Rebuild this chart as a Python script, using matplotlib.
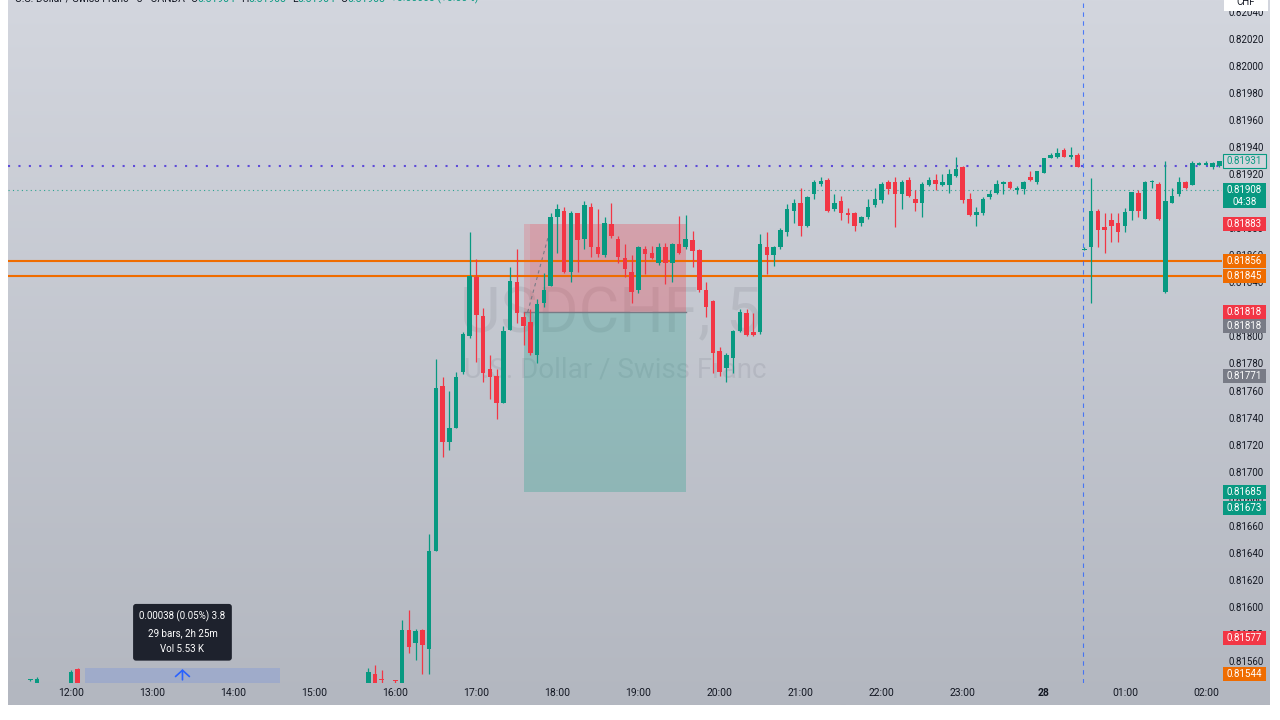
import numpy as np
import matplotlib
matplotlib.use("Agg")
import matplotlib.pyplot as plt
import matplotlib.transforms as mtransforms
from matplotlib.patches import Rectangle
from matplotlib.colors import LinearSegmentedColormap

plt.rcParams['font.family'] = ['Roboto', 'DejaVu Sans']

# 5 minute bars, USDCHF
times = ["11:30", "11:35", "12:00", "12:05", "15:40", "15:45", "15:50", "16:00",
         "16:05", "16:10", "16:15", "16:20", "16:25", "16:30", "16:35", "16:40",
         "16:45", "16:50", "16:55", "17:00", "17:05", "17:10", "17:15", "17:20",
         "17:25", "17:30", "17:35", "17:40", "17:45", "17:50", "17:55", "18:00",
         "18:05", "18:10", "18:15", "18:20", "18:25", "18:30", "18:35", "18:40",
         "18:45", "18:50", "18:55", "19:00", "19:05", "19:10", "19:15", "19:20",
         "19:25", "19:30", "19:35", "19:40", "19:45", "19:50", "19:55", "20:00",
         "20:05", "20:10", "20:15", "20:20", "20:25", "20:30", "20:35", "20:40",
         "20:45", "20:50", "20:55", "21:00", "21:05", "21:10", "21:15", "21:20",
         "21:25", "21:30", "21:35", "21:40", "21:45", "21:50", "21:55", "22:00",
         "22:05", "22:10", "22:15", "22:20", "22:25", "22:30", "22:35", "22:40",
         "22:45", "22:50", "22:55", "23:00", "23:05", "23:10", "23:15", "23:20",
         "23:25", "23:30", "23:35", "23:40", "23:45", "23:50", "23:55", "00:00",
         "00:05", "00:10", "00:15", "00:20", "00:25", "00:30", "00:35", "00:40",
         "00:45", "00:50", "00:55", "01:00", "01:05", "01:10", "01:15", "01:20",
         "01:25", "01:30", "01:35", "01:40", "01:45", "01:50", "01:55", "02:00",
         "02:05", "02:10"]

opens = [0.81546, 0.81544, 0.81544, 0.81554, 0.81544, 0.81550, 0.81547, 0.81546,
         0.81544, 0.81583, 0.81573, 0.81583, 0.81569, 0.81641, 0.81763, 0.81722,
         0.81732, 0.81774, 0.81800, 0.81844, 0.81815, 0.81776, 0.81771, 0.81751,
         0.81805, 0.81840, 0.81814, 0.81811, 0.81786, 0.81825, 0.81837, 0.81888,
         0.81893, 0.81848, 0.81891, 0.81872, 0.81896, 0.81866, 0.81860, 0.81883,
         0.81872, 0.81858, 0.81848, 0.81834, 0.81865, 0.81862, 0.81854, 0.81866,
         0.81854, 0.81868, 0.81866, 0.81871, 0.81864, 0.81834, 0.81826, 0.81789,
         0.81777, 0.81784, 0.81804, 0.81817, 0.81803, 0.81803, 0.81866, 0.81860,
         0.81866, 0.81877, 0.81893, 0.81899, 0.81882, 0.81905, 0.81913, 0.81916,
         0.81894, 0.81900, 0.81891, 0.81891, 0.81884, 0.81888, 0.81897, 0.81901,
         0.81914, 0.81914, 0.81905, 0.81916, 0.81902, 0.81899, 0.81912, 0.81916,
         0.81912, 0.81912, 0.81919, 0.81925, 0.81902, 0.81890, 0.81891, 0.81903,
         0.81906, 0.81913, 0.81914, 0.81908, 0.81909, 0.81918, 0.81914, 0.81921,
         0.81932, 0.81933, 0.81938, 0.81933, 0.81934, 0.81864, 0.81866, 0.81893,
         0.81881, 0.81886, 0.81884, 0.81882, 0.81893, 0.81906, 0.81887, 0.81914,
         0.81913, 0.81833, 0.81899, 0.81905, 0.81914, 0.81912, 0.81927, 0.81927,
         0.81925, 0.81926]

highs = [0.81547, 0.81548, 0.81553, 0.81555, 0.81555, 0.81557, 0.81553, 0.81546,
         0.81590, 0.81598, 0.81584, 0.81584, 0.81654, 0.81783, 0.81770, 0.81760,
         0.81774, 0.81803, 0.81877, 0.81857, 0.81821, 0.81786, 0.81776, 0.81808,
         0.81851, 0.81865, 0.81818, 0.81820, 0.81828, 0.81847, 0.81891, 0.81898,
         0.81896, 0.81893, 0.81891, 0.81900, 0.81899, 0.81894, 0.81888, 0.81899,
         0.81874, 0.81868, 0.81860, 0.81867, 0.81867, 0.81867, 0.81869, 0.81869,
         0.81869, 0.81889, 0.81890, 0.81878, 0.81865, 0.81840, 0.81827, 0.81792,
         0.81788, 0.81805, 0.81820, 0.81820, 0.81817, 0.81876, 0.81877, 0.81867,
         0.81880, 0.81898, 0.81902, 0.81910, 0.81904, 0.81916, 0.81918, 0.81917,
         0.81905, 0.81904, 0.81895, 0.81892, 0.81889, 0.81902, 0.81910, 0.81914,
         0.81916, 0.81918, 0.81916, 0.81918, 0.81908, 0.81914, 0.81918, 0.81920,
         0.81920, 0.81924, 0.81933, 0.81926, 0.81906, 0.81896, 0.81903, 0.81908,
         0.81916, 0.81915, 0.81915, 0.81911, 0.81915, 0.81922, 0.81922, 0.81932,
         0.81936, 0.81939, 0.81939, 0.81940, 0.81936, 0.81866, 0.81917, 0.81894,
         0.81891, 0.81891, 0.81891, 0.81895, 0.81907, 0.81908, 0.81915, 0.81916,
         0.81914, 0.81930, 0.81910, 0.81918, 0.81915, 0.81930, 0.81929, 0.81930,
         0.81929, 0.81930]

lows = [0.81545, 0.81544, 0.81544, 0.81544, 0.81544, 0.81544, 0.81544, 0.81544,
        0.81544, 0.81566, 0.81561, 0.81550, 0.81550, 0.81641, 0.81711, 0.81716,
        0.81732, 0.81772, 0.81799, 0.81781, 0.81766, 0.81754, 0.81739, 0.81751,
        0.81805, 0.81810, 0.81794, 0.81786, 0.81780, 0.81822, 0.81837, 0.81862,
        0.81847, 0.81840, 0.81848, 0.81865, 0.81859, 0.81859, 0.81859, 0.81873,
        0.81854, 0.81844, 0.81825, 0.81832, 0.81846, 0.81857, 0.81853, 0.81839,
        0.81840, 0.81861, 0.81865, 0.81851, 0.81833, 0.81814, 0.81773, 0.81771,
        0.81766, 0.81773, 0.81803, 0.81800, 0.81800, 0.81802, 0.81846, 0.81852,
        0.81865, 0.81874, 0.81884, 0.81874, 0.81881, 0.81902, 0.81911, 0.81892,
        0.81893, 0.81886, 0.81884, 0.81878, 0.81882, 0.81887, 0.81896, 0.81899,
        0.81905, 0.81881, 0.81894, 0.81903, 0.81893, 0.81888, 0.81911, 0.81908,
        0.81911, 0.81906, 0.81918, 0.81899, 0.81889, 0.81882, 0.81890, 0.81902,
        0.81905, 0.81905, 0.81909, 0.81905, 0.81905, 0.81915, 0.81913, 0.81921,
        0.81932, 0.81932, 0.81933, 0.81931, 0.81925, 0.81864, 0.81825, 0.81866,
        0.81862, 0.81870, 0.81870, 0.81877, 0.81886, 0.81888, 0.81887, 0.81910,
        0.81886, 0.81832, 0.81899, 0.81904, 0.81909, 0.81912, 0.81927, 0.81927,
        0.81924, 0.81925]

closes = [0.81546, 0.81547, 0.81552, 0.81544, 0.81552, 0.81544, 0.81546, 0.81545,
          0.81583, 0.81570, 0.81582, 0.81572, 0.81641, 0.81762, 0.81722, 0.81732,
          0.81770, 0.81802, 0.81845, 0.81816, 0.81773, 0.81770, 0.81751, 0.81804,
          0.81841, 0.81817, 0.81808, 0.81788, 0.81824, 0.81834, 0.81888, 0.81894,
          0.81848, 0.81891, 0.81871, 0.81897, 0.81866, 0.81861, 0.81884, 0.81874,
          0.81859, 0.81850, 0.81833, 0.81866, 0.81861, 0.81858, 0.81866, 0.81854,
          0.81868, 0.81862, 0.81872, 0.81863, 0.81834, 0.81822, 0.81788, 0.81774,
          0.81786, 0.81804, 0.81818, 0.81801, 0.81801, 0.81868, 0.81860, 0.81866,
          0.81879, 0.81894, 0.81899, 0.81882, 0.81903, 0.81914, 0.81915, 0.81893,
          0.81899, 0.81891, 0.81890, 0.81882, 0.81888, 0.81896, 0.81902, 0.81913,
          0.81909, 0.81905, 0.81914, 0.81904, 0.81899, 0.81913, 0.81916, 0.81913,
          0.81914, 0.81920, 0.81924, 0.81901, 0.81890, 0.81892, 0.81902, 0.81905,
          0.81913, 0.81914, 0.81910, 0.81910, 0.81914, 0.81916, 0.81922, 0.81932,
          0.81934, 0.81936, 0.81933, 0.81934, 0.81925, 0.81865, 0.81893, 0.81879,
          0.81879, 0.81882, 0.81877, 0.81892, 0.81907, 0.81893, 0.81914, 0.81915,
          0.81887, 0.81900, 0.81904, 0.81914, 0.81910, 0.81928, 0.81928, 0.81928,
          0.81928, 0.81930]

# horizontal levels
orange_levels = [0.81856, 0.81845]
purple_level = 0.81926
last_price = 0.81908

# short position tool
pos_start, pos_end = "17:35", "19:35"
pos_entry, pos_stop, pos_target = 0.81818, 0.81883, 0.81685
trade_times = ["17:38", "17:56"]
trade_prices = [0.81818, 0.81884]

# measure tool
measure_start, measure_end = "12:10", "14:35"
measure_text = "0.00038 (0.05%) 3.8\n29 bars, 2h 25m\nVol 5.53 K"

crosshair_time = "00:29"

hour_ticks = [12, 13, 14, 15, 16, 17, 18, 19, 20, 21, 22, 23, 24, 25, 26]
hour_labels = ["12:00", "13:00", "14:00", "15:00", "16:00", "17:00", "18:00",
               "19:00", "20:00", "21:00", "22:00", "23:00", "28", "01:00", "02:00"]

price_ticks = [0.81560, 0.81580, 0.81600, 0.81620, 0.81640, 0.81660, 0.81680,
               0.81700, 0.81720, 0.81740, 0.81760, 0.81780, 0.81800, 0.81820,
               0.81840, 0.81860, 0.81880, 0.81900, 0.81920, 0.81940, 0.81960,
               0.81980, 0.82000, 0.82020, 0.82040]

# header legend
header_title = "U.S. Dollar / Swiss Franc · 5 · OANDA"
header_ohlc = [("O", "0.81904"), ("H", "0.81908"), ("L", "0.81904"), ("C", "0.81908")]
header_change = "+0.00003 (+0.00%)"

# price scale labels: text, price, background, text colour
GREEN, RED, ORANGE, GREY = '#089981', '#f23645', '#ef6c00', '#787b86'
scale_labels = [
    ("0.81883", 0.81883, RED, 'white'),
    ("0.81856", 0.81856, ORANGE, 'white'),
    ("0.81845", 0.81845, ORANGE, 'white'),
    ("0.81818", 0.81818, RED, 'white'),
    ("0.81818", 0.81808, GREY, 'white'),
    ("0.81771", 0.81771, GREY, 'white'),
    ("0.81685", 0.81685, GREEN, 'white'),
    ("0.81673", 0.81673, GREEN, 'white'),
    ("0.81577", 0.81577, RED, 'white'),
    ("0.81544", 0.81550, ORANGE, 'white'),
]


def to_hour(s):
    h, m = map(int, s.split(':'))
    v = h + m / 60
    return v + 24 if h < 11 else v


x = np.array([to_hour(t) for t in times])
o = np.array(opens)
h = np.array(highs)
l = np.array(lows)
c = np.array(closes)

fig = plt.figure(figsize=(12.8, 7.2), dpi=100, facecolor='white')

# gradient pane behind chart + scales
bg = fig.add_axes([8 / 1280, 15 / 720, 1262 / 1280, 705 / 720])
cmap = LinearSegmentedColormap.from_list('pane', ['#d3d6de', '#b3b7c0'])
bg.imshow(np.linspace(0, 1, 256).reshape(-1, 1), cmap=cmap, aspect='auto')
bg.set_axis_off()

ax = fig.add_axes([8 / 1280, 37 / 720, 1214 / 1280, 683 / 720])
ax.set_facecolor('none')
ax.set_xlim(11.2229, 26.198)
ax.set_ylim(0.815437, 0.820488)
for s in ax.spines.values():
    s.set_visible(False)

# watermark
ax.text(0.4967, 0.5388, "USDCHF, 5", transform=ax.transAxes, ha='center', va='center',
        fontsize=45, color='#787b86', alpha=0.18, zorder=0.5)
ax.text(0.5, 0.458, "U.S. Dollar / Swiss Franc", transform=ax.transAxes, ha='center',
        va='center', fontsize=20, color='#787b86', alpha=0.18, zorder=0.5)

# position tool
x0, x1 = to_hour(pos_start), to_hour(pos_end)
ax.add_patch(Rectangle((x0, pos_entry), x1 - x0, pos_stop - pos_entry,
                       facecolor=RED, alpha=0.2, lw=0, zorder=1))
ax.add_patch(Rectangle((x0 + 5 / 60, pos_entry), x1 - x0 - 5 / 60, pos_stop - pos_entry,
                       facecolor=RED, alpha=0.1, lw=0, zorder=1))
ax.add_patch(Rectangle((x0, pos_target), x1 - x0, pos_entry - pos_target,
                       facecolor=GREEN, alpha=0.25, lw=0, zorder=1))
ax.plot([x0, x1], [pos_entry, pos_entry], color=GREY, lw=1, zorder=1.2)
ax.plot([to_hour(t) for t in trade_times], trade_prices, color=GREY, lw=0.8,
        ls=(0, (3, 3)), zorder=1.2)

# measure band + arrow + tooltip
m0, m1 = to_hour(measure_start), to_hour(measure_end)
ax.add_patch(Rectangle((m0, 0.815437), m1 - m0, 0.81555 - 0.815437,
                       facecolor='#2962ff', alpha=0.15, lw=0, zorder=1))
mx = (m0 + m1) / 2
ax.annotate('', xy=(mx, 0.81556), xytext=(mx, 0.81544),
            arrowprops=dict(arrowstyle='->,head_length=0.45,head_width=0.5',
                            color='#2962ff', lw=1.2), zorder=3)
ax.text(mx, 0.81581, measure_text, ha='center', va='center', fontsize=7,
        color='white', linespacing=1.75, zorder=6,
        bbox=dict(boxstyle='round,pad=0.65,rounding_size=0.3', facecolor='#1e222d',
                  edgecolor='none'))

# level lines
for lv in orange_levels:
    ax.axhline(lv, color=ORANGE, lw=1.5, zorder=2)
ax.axhline(purple_level, color='#5e4bd8', lw=1.5, ls=(0, (1, 4)), zorder=2)
ax.axhline(last_price, color=GREEN, lw=0.8, ls=(0, (1, 3)), alpha=0.8, zorder=2)
ax.axvline(to_hour(crosshair_time), color='#2962ff', lw=0.8, ls=(0, (4, 4)),
           alpha=0.8, zorder=2)

# candles
colors = np.where(c >= o, GREEN, RED)
body_lo = np.minimum(o, c)
body_h = np.maximum(np.abs(c - o), 0.000008)
ax.vlines(x, l, h, colors=colors, lw=0.9, zorder=3)
ax.bar(x, body_h, bottom=body_lo, width=0.056, color=colors, lw=0, zorder=3.5)

# axes ticks
ax.set_xticks(hour_ticks)
ax.set_xticklabels(hour_labels)
for lab in ax.get_xticklabels():
    if lab.get_text() == "28":
        lab.set_fontweight('bold')
ax.tick_params(axis='x', length=0, pad=3.5, labelsize=7.5, labelcolor='#131722')
ax.yaxis.tick_right()
ax.set_yticks(price_ticks)
ax.set_yticklabels([f"{p:.5f}" for p in price_ticks])
ax.tick_params(axis='y', length=0, pad=4.5, labelsize=7, labelcolor='#131722')

# price scale labels
trans = mtransforms.blended_transform_factory(ax.transAxes, ax.transData)
px = 1 / 135200  # price per pixel
bw = 43 / 1214
for txt, p, fc, tc in scale_labels:
    ax.add_patch(Rectangle((1 + 1 / 1214, p - 7 * px), bw, 14 * px, transform=trans,
                           facecolor=fc, lw=0, clip_on=False, zorder=8))
    ax.text(1 + 1 / 1214 + bw / 2, p, txt, transform=trans, ha='center', va='center',
            fontsize=7, color=tc, clip_on=False, zorder=9)

# last price with countdown
ax.add_patch(Rectangle((1 + 1 / 1214, 0.81908 - 18 * px), bw, 25 * px, transform=trans,
                       facecolor=GREEN, lw=0, clip_on=False, zorder=8))
ax.text(1 + 1 / 1214 + bw / 2, 0.81908 - 5.5 * px, "0.81908\n04:38", transform=trans,
        ha='center', va='center', fontsize=7, color='white', linespacing=1.2,
        clip_on=False, zorder=9)
# outlined label
ax.add_patch(Rectangle((1 + 1 / 1214, 0.81930 - 7 * px), bw, 14 * px, transform=trans,
                       facecolor='#d2d5dc', edgecolor=GREEN, lw=0.8, clip_on=False,
                       zorder=8))
ax.text(1 + 1 / 1214 + bw / 2, 0.81930, "0.81931", transform=trans, ha='center',
        va='center', fontsize=7, color=GREEN, clip_on=False, zorder=9)

# currency box at top of price scale
fig.add_artist(Rectangle((1224 / 1280, 1 - 11 / 720), 44 / 1280, 20 / 720,
                         transform=fig.transFigure, facecolor='white', lw=0, zorder=5))
fig.text(1246 / 1280, 1 - 2 / 720, "CHF", ha='center', va='center', fontsize=7,
         color='#131722', zorder=6)

# header (cut at the top edge), pieces chained one after another
prev = fig.text(15 / 1280, 1 - 2 / 720, header_title, fontsize=7.5, color='#131722',
                va='baseline')
gap = 4
for letter, val in header_ohlc:
    prev = ax.annotate(letter, xy=(1, 0), xycoords=prev, xytext=(gap, 0),
                       textcoords='offset points', va='bottom', fontsize=7.5,
                       color='#131722', annotation_clip=False)
    prev = ax.annotate(val, xy=(1, 0), xycoords=prev, va='bottom', fontsize=7.5,
                       color=GREEN, annotation_clip=False)
ax.annotate(header_change, xy=(1, 0), xycoords=prev, xytext=(gap, 0),
            textcoords='offset points', va='bottom', fontsize=7.5, color=GREEN,
            annotation_clip=False)

fig.savefig("out.png", dpi=100, facecolor='white')
